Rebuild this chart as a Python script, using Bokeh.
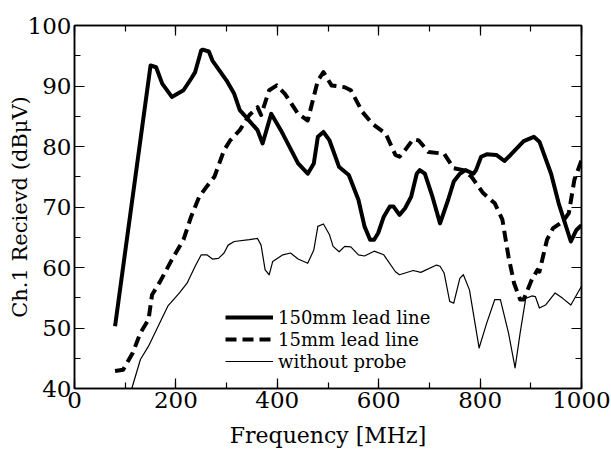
from bokeh.plotting import figure
from bokeh.models import (LinearAxis, SingleIntervalTicker, Range1d, Legend, LegendItem,
                          CustomJSTickFormatter)
from bokeh.embed import file_html
from bokeh.resources import INLINE

# Received level on channel 1 versus frequency, three probe configurations
freq_150mm = [80, 150, 161, 173, 192, 215, 230, 238, 250, 253, 265, 272, 300, 315, 326, 338,
              361, 371, 388, 407, 441, 460, 472, 480, 491, 503, 522, 541, 560, 572, 583, 591,
              599, 610, 622, 629, 641, 652, 664, 675, 681, 691, 706, 721, 737, 748, 760, 771,
              787, 792, 802, 813, 832, 848, 860, 886, 906, 917, 940, 955, 979, 990, 1000]
level_150mm = [50.3, 93.4, 93.1, 90.4, 88.2, 89.3, 91.2, 92.3, 95.9, 96.0, 95.7, 94.2, 90.9, 88.7,
               86.0, 84.9, 82.7, 80.5, 85.4, 82.7, 77.2, 75.5, 77.2, 81.6, 82.4, 81.0, 76.6, 75.3,
               71.2, 66.8, 64.6, 64.6, 65.7, 68.4, 70.1, 70.1, 68.7, 69.8, 71.7, 75.5, 76.1, 75.5,
               71.7, 67.3, 71.2, 74.2, 75.5, 76.1, 75.5, 76.1, 78.3, 78.7, 78.6, 77.6, 78.6, 80.9,
               81.6, 80.8, 75.5, 70.6, 64.3, 66.2, 67.0]

freq_15mm = [80, 96, 115, 130, 146, 153, 169, 192, 215, 230, 246, 261, 276, 295, 307, 326, 345,
             361, 368, 384, 399, 415, 441, 460, 480, 491, 507, 533, 545, 568, 587, 614, 633, 641,
             652, 668, 679, 698, 729, 748, 767, 783, 806, 829, 844, 856, 867, 879, 886, 902, 913,
             917, 932, 944, 963, 975, 986, 1000]
level_15mm = [42.9, 43.1, 45.9, 49.2, 51.4, 55.5, 57.7, 61.3, 64.6, 68.4, 71.7, 73.4, 75.0, 79.4,
              81.0, 82.7, 85.2, 86.5, 85.2, 89.3, 90.1, 88.7, 85.4, 84.3, 90.9, 92.3, 90.1, 89.8,
              89.3, 85.7, 83.8, 82.1, 78.6, 78.3, 79.4, 81.2, 81.0, 79.1, 78.8, 76.4, 76.1, 75.0,
              72.3, 70.6, 67.9, 61.8, 57.4, 54.7, 54.7, 58.0, 59.6, 59.3, 64.6, 66.5, 67.6, 69.0,
              74.5, 77.7]

freq_noprobe = [113, 130, 146, 165, 184, 207, 222, 238, 250, 261, 272, 284, 295, 303, 315, 345,
                361, 368, 376, 384, 391, 411, 426, 441, 460, 472, 480, 491, 503, 510, 522, 533,
                545, 560, 572, 591, 610, 633, 641, 668, 683, 714, 721, 729, 740, 748, 760, 767,
                779, 798, 813, 829, 840, 856, 869, 879, 890, 902, 909, 917, 929, 948, 963, 979, 1000]
level_noprobe = [40.0, 44.8, 47.0, 50.3, 53.6, 55.8, 57.4, 60.2, 62.1, 62.1, 61.4, 61.5, 62.4,
                 63.7, 64.3, 64.6, 64.8, 63.7, 59.6, 58.8, 61.0, 62.1, 62.4, 61.4, 60.7, 62.9,
                 66.8, 67.2, 65.4, 63.5, 62.6, 63.5, 63.4, 62.1, 61.9, 62.7, 62.1, 59.3, 58.8,
                 59.5, 59.2, 60.4, 60.2, 59.1, 54.4, 54.1, 58.2, 58.8, 56.3, 46.7, 50.8, 54.7,
                 54.7, 49.2, 43.4, 49.2, 54.9, 55.3, 55.2, 53.3, 53.8, 55.8, 54.9, 53.8, 56.9]

series_labels = ["150mm lead line", "15mm lead line", "without probe"]

FONT = "DejaVu Serif"

p = figure(width=611, height=450, output_backend="svg", toolbar_location=None,
           x_range=Range1d(0, 1000), y_range=Range1d(40, 100),
           min_border_left=74, min_border_right=30, min_border_top=25, min_border_bottom=61)
p.grid.visible = False
p.background_fill_color = "white"
p.border_fill_color = "white"
p.outline_line_color = "black"
p.outline_line_width = 1.5


def style_axis(ax, labels=True):
    ax.axis_line_color = "black"
    ax.axis_line_width = 1.5
    ax.major_tick_in = 10
    ax.major_tick_out = 0
    ax.minor_tick_in = 6
    ax.minor_tick_out = 0
    ax.major_tick_line_color = "black"
    ax.minor_tick_line_color = "black"
    ax.major_tick_line_width = 1.2
    ax.minor_tick_line_width = 1.2
    ax.major_label_text_font = FONT
    ax.major_label_text_color = "black"
    ax.axis_label_text_font = FONT
    ax.axis_label_text_font_style = "normal"
    ax.axis_label_text_color = "black"
    ax.major_label_text_font_size = "23px"
    ax.axis_label_text_font_size = "22px"
    if not labels:
        # frame-side ticks only, no numbers
        ax.formatter = CustomJSTickFormatter(code="return ''")
        ax.major_label_standoff = 0


p.xaxis.ticker = SingleIntervalTicker(interval=200, num_minor_ticks=2)
p.yaxis.ticker = SingleIntervalTicker(interval=10, num_minor_ticks=2)
p.xaxis.axis_label = "Frequency [MHz]"
p.yaxis.axis_label = "Ch.1 Recievd (dBμV)"
style_axis(p.xaxis[0])
style_axis(p.yaxis[0])
p.yaxis.axis_label_text_font_size = "21px"
p.xaxis.major_label_standoff = 3
p.xaxis.axis_label_standoff = 12
p.yaxis.major_label_standoff = 3
p.yaxis.axis_label_standoff = -7

top_axis = LinearAxis(ticker=SingleIntervalTicker(interval=200, num_minor_ticks=2))
right_axis = LinearAxis(ticker=SingleIntervalTicker(interval=10, num_minor_ticks=2))
style_axis(top_axis, labels=False)
style_axis(right_axis, labels=False)
p.add_layout(top_axis, "above")
p.add_layout(right_axis, "right")

r1 = p.line(freq_150mm, level_150mm, line_color="black", line_width=4, line_join="round")
r2 = p.line(freq_15mm, level_15mm, line_color="black", line_width=4, line_dash="11 6",
            line_join="round")
r3 = p.line(freq_noprobe, level_noprobe, line_color="black", line_width=1.2, line_join="round")

legend = Legend(items=[LegendItem(label=series_labels[0], renderers=[r1]),
                       LegendItem(label=series_labels[1], renderers=[r2]),
                       LegendItem(label=series_labels[2], renderers=[r3])],
                location=(151, 16))
legend.border_line_color = None
legend.background_fill_alpha = 0
legend.padding = 0
legend.margin = 0
legend.spacing = 0
legend.glyph_width = 48
legend.glyph_height = 22
legend.label_height = 22
legend.label_standoff = 5
legend.label_text_font = FONT
legend.label_text_font_size = "18px"
legend.label_text_color = "black"
p.add_layout(legend)

open("out.html", "w").write(file_html(p, INLINE))
